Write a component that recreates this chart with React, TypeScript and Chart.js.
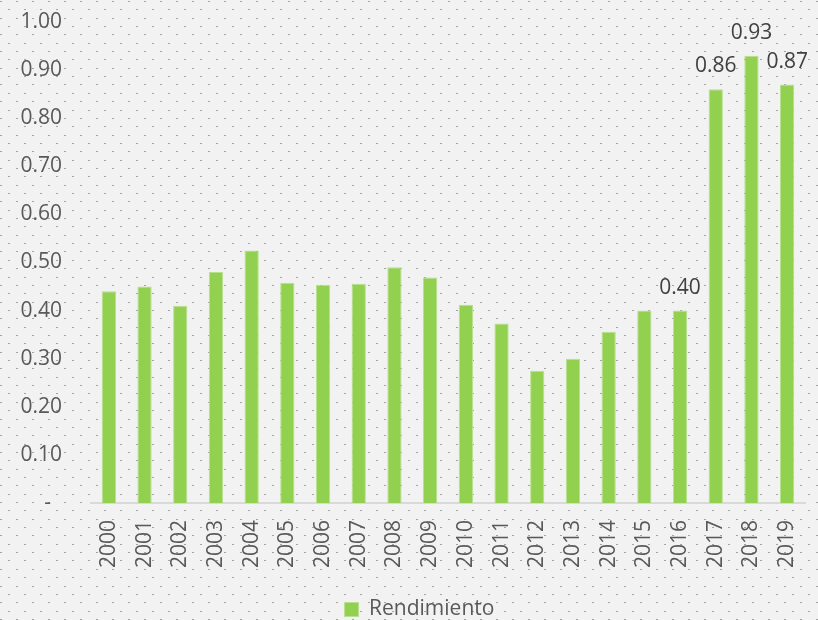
import React, { useEffect, useRef } from "react";
import { Chart, registerables } from "chart.js";

Chart.register(...registerables);

const years = ["2000","2001","2002","2003","2004","2005","2006","2007","2008","2009","2010","2011","2012","2013","2014","2015","2016","2017","2018","2019"];
const rendimiento = [0.44,0.45,0.41,0.48,0.525,0.458,0.454,0.456,0.49,0.469,0.412,0.373,0.275,0.30,0.356,0.40,0.40,0.86,0.93,0.87];
const labeledYears = ["2016","2017","2018","2019"];
const seriesName = "Rendimiento";

const FONT = "'Open Sans', sans-serif";
const FS = 21;

const bgPlugin = {
  id: "dotBg",
  beforeDraw(chart: any) {
    const ctx = chart.ctx;
    const w = chart.width, h = chart.height;
    ctx.save();
    ctx.fillStyle = "#f2f2f2";
    ctx.fillRect(0, 0, w, h);
    ctx.fillStyle = "#a3a3a3";
    let row = 0;
    for (let y = 1; y < h; y += 8.35, row++) {
      const off = row % 2 === 0 ? 0 : 8;
      for (let x = off; x < w; x += 16) {
        ctx.fillRect(Math.round(x), Math.round(y), 2, 1);
      }
    }
    ctx.restore();
  },
};

const legendShift = {
  id: "legendShift",
  afterLayout(chart: any) {
    const lg = chart.legend;
    if (!lg) return;
    const dx = 17;
    const dy = 10;
    lg.left += dx;
    lg.right += dx;
    lg.top += dy;
    lg.bottom += dy;
  },
};

const labelPlugin = {
  id: "valueLabels",
  afterDatasetsDraw(chart: any) {
    const ctx = chart.ctx;
    const meta = chart.getDatasetMeta(0);
    ctx.save();
    ctx.font = `${FS}px ${FONT}`;
    ctx.fillStyle = "#404040";
    ctx.textAlign = "center";
    ctx.textBaseline = "alphabetic";
    meta.data.forEach((bar: any, i: number) => {
      if (!labeledYears.includes(years[i])) return;
      ctx.fillText(rendimiento[i].toFixed(2), bar.x, bar.y - 17);
    });
    ctx.restore();
  },
};

export default function App() {
  const ref = useRef<HTMLCanvasElement>(null);
  useEffect(() => {
    document.body.style.margin = "0";
    document.body.style.overflow = "hidden";
    const chart = new Chart(ref.current!, {
      type: "bar",
      data: {
        labels: years,
        datasets: [
          {
            label: seriesName,
            data: rendimiento,
            backgroundColor: "#92d050",
            borderColor: "#b9e08f",
            borderWidth: 1,
            categoryPercentage: 1,
            barPercentage: 0.4,
          },
        ],
      },
      options: {
        animation: false,
        responsive: false,
        maintainAspectRatio: false,
        layout: { padding: { left: 0, right: 13, top: 22, bottom: 0 } },
        plugins: {
          tooltip: { enabled: false },
          legend: {
            position: "bottom",
            labels: {
              font: { family: FONT, size: FS },
              color: "#595959",
              boxWidth: 14,
              boxHeight: 14,
              padding: 4,
            },
          },
        },
        scales: {
          y: {
            min: 0,
            max: 1,
            afterFit: (s: any) => { s.width = 91; s.paddingTop = 0; s.paddingBottom = 0; },
            grid: { display: false, drawTicks: false },
            border: { display: false },
            ticks: {
              stepSize: 0.1,
              padding: 29,
              color: "#595959",
              font: { family: FONT, size: FS },
              callback: (v: any) => (Number(v) === 0 ? "-  " : Number(v).toFixed(2)),
            },
          },
          x: {
            afterFit: (s: any) => { s.height = 82; s.paddingLeft = 0; s.paddingRight = 0; },
            grid: { display: false, drawTicks: false },
            border: { display: true, color: "#d9d9d9", width: 2 },
            ticks: {
              minRotation: 90,
              maxRotation: 90,
              padding: 17,
              color: "#595959",
              font: { family: FONT, size: FS },
            },
          },
        },
      },
      plugins: [bgPlugin, legendShift, labelPlugin],
    });
    return () => chart.destroy();
  }, []);
  return <canvas ref={ref} width={818} height={620} style={{ display: "block" }} />;
}
